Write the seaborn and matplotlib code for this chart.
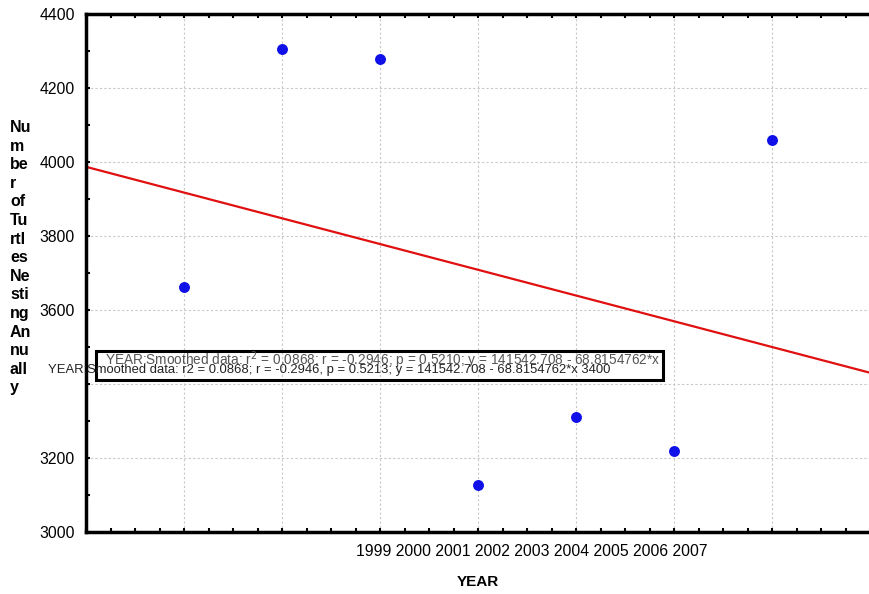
import matplotlib
matplotlib.use("Agg")
import matplotlib.pyplot as plt
import seaborn as sns
import pandas as pd
from matplotlib.ticker import MultipleLocator, FuncFormatter
from matplotlib.patches import Rectangle

# Data
years = [2000, 2001, 2002, 2003, 2004, 2005, 2006]
nests = [3662, 4305, 4278, 3127, 3311, 3219, 4059]
year_labels = ["1999", "2000", "2001", "2002", "2003", "2004", "2005", "2006", "2007"]
ylabel_parts = ["Nu", "m", "be", "r", "of", "Tu", "rtl", "es", "Ne", "sti", "ng", "An", "nu", "all", "y"]
box_text = "YEAR:Smoothed data: r$^2$ = 0.0868; r = -0.2946; p = 0.5210; y = 141542.708 - 68.8154762*x"
over_text = "YEAR:Smoothed data: r2 = 0.0868; r = -0.2946, p = 0.5213; y = 141542.708 - 68.8154762*x 3400"

df = pd.DataFrame({"YEAR": years, "Nests": nests})

sns.set_style("white")
plt.rcParams["font.family"] = ["Liberation Sans", "DejaVu Sans"]
plt.rcParams["text.color"] = "black"

W, H = 870, 594
fig = plt.figure(figsize=(W / 100, H / 100), dpi=100)
ax = fig.add_axes([86 / W, 1 - 532 / H, (870 - 86) / W, (532 - 14) / H])

ax.set_xlim(1999, 2007)
ax.set_ylim(3000, 4400)

# fitted line across the whole axis, then the yearly counts
sns.regplot(data=df, x="YEAR", y="Nests", ax=ax, scatter=False, ci=None,
            truncate=False, color="#e01010", line_kws={"linewidth": 1.6})
sns.scatterplot(data=df, x="YEAR", y="Nests", ax=ax, color="#1010e8", s=62,
                edgecolor="#1010e8", linewidth=0, zorder=5)

ax.set_xlim(1999, 2007)
ax.set_ylim(3000, 4400)
ax.set_xlabel("")
ax.set_ylabel("")

ax.xaxis.set_major_locator(MultipleLocator(1))
ax.xaxis.set_minor_locator(MultipleLocator(0.25))
ax.yaxis.set_major_locator(MultipleLocator(200))
ax.yaxis.set_minor_locator(MultipleLocator(100))
ax.xaxis.set_major_formatter(FuncFormatter(lambda v, p: ""))
ax.yaxis.set_major_formatter(FuncFormatter(lambda v, p: "" if abs(v - 3400) < 1 else f"{v:.0f}"))

ax.tick_params(axis="x", which="both", direction="in", length=3, width=1.5,
               top=True, bottom=True, color="black")
ax.tick_params(axis="y", which="both", direction="in", length=3, width=1.5,
               left=True, right=False, color="black", labelsize=11.3, pad=8,
               labelcolor="black")
ax.tick_params(axis="x", which="major", labelbottom=False)

ax.grid(True, which="major", color="#c8c8c8", linestyle=(0, (2, 2)), linewidth=0.8)
ax.set_axisbelow(True)

for side in ["left", "bottom", "top"]:
    ax.spines[side].set_visible(True)
    ax.spines[side].set_color("black")
    ax.spines[side].set_linewidth(2.5)
ax.spines["right"].set_visible(False)

# legend-like box with overlapping text
ax.add_patch(Rectangle((96 / W, 1 - 380 / H), (663 - 96) / W, (380 - 351) / H,
                       transform=fig.transFigure, fill=False, edgecolor="black",
                       linewidth=2.2, zorder=6, clip_on=False))
fig.text(105 / W, 1 - 365 / H, box_text, fontsize=9.8, color="#555555",
         ha="left", va="baseline", zorder=7)
fig.text(48 / W, 1 - 373 / H, over_text, fontsize=9.4, color="#222222",
         ha="left", va="baseline", zorder=7)

# y label broken into fragments
fig.text(10 / W, 1 - 120 / H, "\n".join(ylabel_parts), fontsize=11.5, fontweight="bold",
         ha="left", va="top", linespacing=1.3, color="black")

# year labels written as one line under the axis
fig.text(532 / W, 1 - 552 / H, " ".join(year_labels), fontsize=11.3,
         ha="center", va="center", color="black")
fig.text(478 / W, 1 - 582 / H, "YEAR", fontsize=11, fontweight="bold",
         ha="center", va="center", color="black")

fig.savefig("out.png", dpi=100)
